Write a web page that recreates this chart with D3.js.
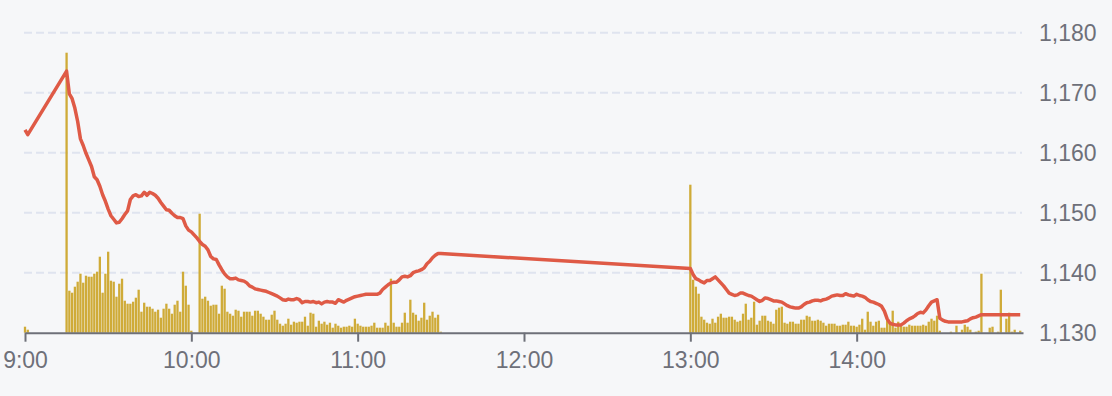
<!DOCTYPE html>
<html>
<head>
<meta charset="utf-8">
<script src="https://cdn.jsdelivr.net/npm/d3@7"></script>
<style>
  body { margin: 0; background: #f6f7f9; }
  svg { display: block; }
  text { font-family: Helvetica, Arial, "Liberation Sans", sans-serif; }
</style>
</head>
<body>
<div id="chart"></div>
<script>
// minutes after 9:00 where each run of one-minute data starts
var preStart = 0;    // 9:00
var amStart = 15;    // 9:15
var pmStart = 240;   // 13:00

var prePrice = [1163.8, 1163.0];
var preVolume = [6, 3];

// 9:15 - 11:30
var amPrice = [
    1173.6, 1169.8, 1169.0, 1167.4, 1165.2, 1162.3, 1161.2, 1159.9, 1158.8, 1157.7, 1156.0, 1155.5, 1154.4, 1153.0, 1151.9,
    1150.6, 1149.5, 1148.9, 1148.3, 1148.4, 1149.0, 1149.7, 1150.3, 1152.2, 1152.8, 1153.0, 1152.7, 1152.8, 1153.4, 1152.9,
    1153.4, 1153.2, 1152.9, 1152.4, 1151.7, 1151.1, 1150.5, 1150.4, 1149.9, 1149.5, 1149.2, 1149.2, 1149.0, 1147.8, 1147.1,
    1146.8, 1146.3, 1145.8, 1145.2, 1144.7, 1144.4, 1143.8, 1142.7, 1142.3, 1142.2, 1141.3, 1140.5, 1139.8, 1139.3, 1139.0,
    1139.0, 1139.1, 1138.8, 1138.7, 1138.6, 1138.3, 1137.8, 1137.6, 1137.3, 1137.2, 1137.1, 1137.0, 1136.9, 1136.7, 1136.5,
    1136.3, 1136.1, 1135.8, 1135.5, 1135.4, 1135.6, 1135.5, 1135.5, 1135.7, 1135.5, 1135.0, 1135.2, 1135.2, 1135.1, 1135.2,
    1135.0, 1135.1, 1134.8, 1135.1, 1135.2, 1135.1, 1135.1, 1134.9, 1135.5, 1135.3, 1135.1, 1135.4, 1135.6, 1135.8, 1136.0,
    1136.1, 1136.2, 1136.3, 1136.4, 1136.4, 1136.4, 1136.4, 1136.4, 1136.6, 1137.2, 1137.6, 1138.0, 1138.3, 1138.4, 1138.4,
    1138.8, 1139.3, 1139.4, 1139.3, 1139.5, 1140.0, 1140.2, 1140.3, 1140.5, 1140.8, 1141.5, 1141.9, 1142.5, 1142.9, 1143.2,
    1143.2
];
var amVolume = [
    280, 42, 40, 46, 51, 59, 50, 57, 56, 56, 59, 61, 76, 40, 59,
    81, 52, 51, 36, 49, 54, 32, 29, 29, 31, 35, 43, 21, 30, 26,
    26, 24, 21, 23, 15, 24, 29, 24, 19, 28, 32, 21, 61, 47, 28,
    2, 0, 0, 119, 34, 36, 32, 27, 28, 28, 19, 47, 44, 21, 19,
    17, 23, 22, 16, 21, 21, 21, 17, 22, 22, 19, 16, 13, 13, 18,
    22, 13, 9, 7, 9, 14, 8, 11, 10, 11, 11, 16, 7, 20, 19,
    6, 12, 9, 11, 8, 10, 5, 9, 7, 5, 6, 6, 7, 6, 14,
    9, 7, 6, 6, 6, 7, 10, 5, 5, 5, 10, 7, 54, 10, 6,
    6, 10, 20, 10, 33, 20, 18, 12, 15, 30, 13, 17, 21, 15, 18,
    1
];

// 13:00 - 14:59
var pmPrice = [
    1140.7, 1139.7, 1139.0, 1138.8, 1138.5, 1138.3, 1138.7, 1138.7, 1139.0, 1139.3, 1138.8, 1138.3, 1137.8, 1137.2, 1136.6,
    1136.4, 1136.2, 1136.3, 1136.6, 1136.6, 1136.4, 1136.2, 1136.1, 1135.8, 1135.5, 1135.2, 1135.4, 1135.8, 1135.7, 1135.5,
    1135.3, 1135.3, 1135.2, 1135.1, 1134.8, 1134.5, 1134.3, 1134.2, 1134.1, 1134.1, 1134.3, 1134.7, 1135.0, 1135.1, 1135.3,
    1135.4, 1135.4, 1135.3, 1135.5, 1135.6, 1135.8, 1136.1, 1136.2, 1136.3, 1136.2, 1136.2, 1136.5, 1136.3, 1136.2, 1136.1,
    1136.4, 1136.2, 1136.1, 1135.9, 1135.5, 1135.2, 1135.1, 1134.9, 1134.7, 1134.4, 1133.6, 1132.3, 1131.6, 1131.4, 1131.3,
    1131.3, 1131.3, 1131.6, 1132.0, 1132.3, 1132.5, 1132.8, 1133.2, 1133.4, 1133.3, 1133.8, 1134.5, 1135.1, 1135.3, 1135.5,
    1132.4, 1132.1, 1131.9, 1131.8, 1131.8, 1131.8, 1131.8, 1131.8, 1131.8, 1131.9, 1132.0, 1132.3, 1132.5, 1132.6, 1132.8,
    1133.0, 1133.0, 1133.0, 1133.0, 1133.0, 1133.0, 1133.0, 1133.0, 1133.0, 1133.0, 1133.0, 1133.0, 1133.0, 1133.0, 1133.0
];
var pmVolume = [
    148, 53, 46, 39, 16, 13, 10, 9, 14, 10, 16, 19, 15, 15, 16,
    16, 13, 11, 12, 19, 29, 13, 15, 31, 8, 12, 17, 17, 12, 11,
    9, 23, 25, 26, 10, 9, 11, 11, 9, 9, 13, 13, 17, 16, 12,
    12, 13, 12, 10, 7, 9, 9, 9, 7, 7, 8, 8, 11, 7, 7,
    6, 8, 14, 3, 21, 11, 7, 11, 12, 5, 5, 13, 9, 22, 5,
    11, 7, 6, 6, 8, 7, 7, 7, 7, 8, 7, 11, 14, 12, 17,
    2, 0, 0, 0, 1, 0, 7, 0, 3, 8, 6, 3, 0, 1, 2,
    59, 0, 0, 5, 6, 0, 1, 43, 0, 14, 20, 1, 3, 0, 2
];

var xTicks = [0, 60, 120, 180, 240, 300];
var xTickLabels = ["9:00", "10:00", "11:00", "12:00", "13:00", "14:00"];
var yTicks = [1130, 1140, 1150, 1160, 1170, 1180];

function run(start, prices, vols) {
    return prices.map(function (p, i) {
        return {m: start + i, price: p, vol: vols[i]};
    });
}

var data = run(preStart, prePrice, preVolume)
    .concat(run(amStart, amPrice, amVolume))
    .concat(run(pmStart, pmPrice, pmVolume));

var width = 1112;
var height = 396;
var axisColor = "#6e7079";

var svg = d3.select("#chart")
    .append("svg")
    .attr("width", width)
    .attr("height", height);

var x = d3.scaleLinear().domain([0, 360]).range([25, 1023]);
var y = d3.scaleLinear().domain([1130, 1180]).range([332.7, 32.7]);
var yVol = d3.scaleLinear().domain([0, 280]).range([332.7, 52.7]);

// grid
svg.append("g")
    .selectAll("line")
    .data(yTicks.slice(1))
    .enter()
    .append("line")
    .attr("x1", x.range()[0] - 1)
    .attr("x2", x.range()[1] - 1)
    .attr("y1", function (d) { return y(d); })
    .attr("y2", function (d) { return y(d); })
    .attr("stroke", "#dfe4ef")
    .attr("stroke-width", 2)
    .attr("stroke-dasharray", "8,4");

// volume bars
svg.append("g")
    .selectAll("rect")
    .data(data.filter(function (d) { return d.vol > 0; }))
    .enter()
    .append("rect")
    .attr("x", function (d) { return x(d.m) - 1.15; })
    .attr("width", 2.3)
    .attr("y", function (d) { return yVol(d.vol); })
    .attr("height", function (d) { return yVol(0) - yVol(d.vol); })
    .attr("fill", "#cfab38");

// x axis
var xAxis = svg.append("g")
    .attr("transform", "translate(0," + y(1130) + ")")
    .call(d3.axisBottom(x)
        .tickValues(xTicks)
        .tickFormat(function (d, i) { return xTickLabels[i]; })
        .tickSize(9)
        .tickSizeOuter(0));

xAxis.select(".domain").attr("stroke", axisColor).attr("stroke-width", 2);
xAxis.selectAll(".tick line").attr("stroke", axisColor).attr("stroke-width", 2);
xAxis.selectAll(".tick text")
    .attr("dy", null)
    .attr("y", 35.5)
    .attr("fill", axisColor)
    .style("font-size", "23px");

// price line
var line = d3.line()
    .x(function (d) { return x(d.m); })
    .y(function (d) { return y(d.price); });

svg.append("path")
    .datum(data)
    .attr("d", line)
    .attr("fill", "none")
    .attr("stroke", "#df5a46")
    .attr("stroke-width", 3.5)
    .attr("stroke-linejoin", "round");

// y labels on the right
svg.append("g")
    .selectAll("text")
    .data(yTicks)
    .enter()
    .append("text")
    .attr("x", 1039)
    .attr("y", function (d) { return y(d); })
    .attr("dy", "0.35em")
    .attr("fill", axisColor)
    .style("font-size", "23px")
    .text(d3.format(","));
</script>
</body>
</html>
